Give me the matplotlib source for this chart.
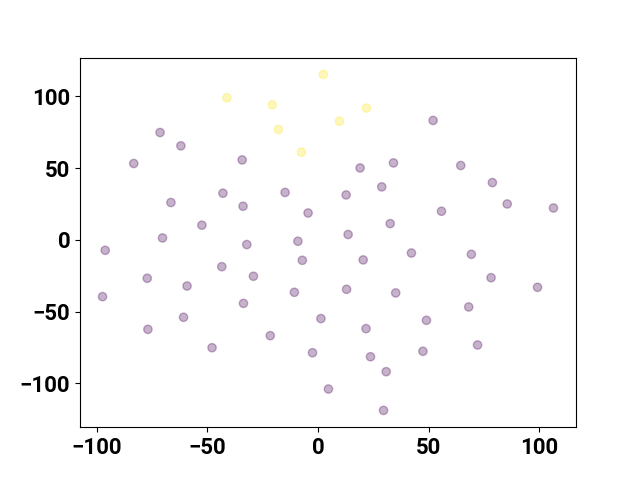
import numpy as np
import matplotlib as mpl
mpl.use('Agg')
from matplotlib import pyplot as plt

plt.rcParams['font.family'] = ['Roboto', 'DejaVu Sans']
plt.rcParams['font.weight'] = 'bold'

# embedded points, class 1 (yellow)
x_pos = [2.4, -41.2, -20.7, -17.9, -7.5, 21.9, 9.7]
y_pos = [115.4, 99.1, 94.2, 77.0, 61.2, 91.9, 82.8]

# class 0 (purple)
x_neg = [-71.4, -62.0, -83.3, -34.3, -43.0, -14.9, -66.5, -33.9, -4.5, -52.5, -70.3,
         52.0, 19.0, 34.1, 64.5, 78.8, 28.8, 12.7, 85.5, 106.4, 55.8, 32.6, 13.6,
         -96.2, -32.2, -9.1, -43.5, -7.1, -77.2, -59.2, -29.2, -97.4, -10.7, -33.7,
         -60.8, 1.3, -76.9, -21.6, -47.9, -2.5, 4.7,
         20.4, 42.2, 69.3, 78.2, 99.2, 12.9, 35.1, 68.1, 49.0, 21.7, 72.1, 23.7,
         47.4, 30.8, 29.6]
y_neg = [74.9, 65.6, 53.3, 55.8, 32.6, 33.1, 26.1, 23.5, 18.8, 10.3, 1.4,
         83.3, 50.2, 53.7, 51.9, 40.0, 37.0, 31.4, 25.1, 22.3, 20.0, 11.4, 3.8,
         -7.2, -3.2, -0.9, -18.6, -14.2, -26.7, -32.1, -25.3, -39.5, -36.5, -44.2,
         -53.9, -54.8, -62.3, -66.7, -75.1, -78.6, -103.9,
         -13.9, -9.1, -10.0, -26.3, -33.0, -34.4, -36.9, -46.7, -56.0, -61.8, -73.2,
         -81.4, -77.6, -91.8, -118.8]

x = np.array(x_neg + x_pos)
y = np.array(y_neg + y_pos)
labels = np.array([0] * len(x_neg) + [1] * len(x_pos))

fig = plt.figure(figsize=(6.4, 4.8), dpi=100)
ax = fig.add_subplot(1, 1, 1)
ax.scatter(x, y, c=labels, cmap='viridis', alpha=0.3)
ax.tick_params(labelsize=16)
fig.savefig("out.png")
